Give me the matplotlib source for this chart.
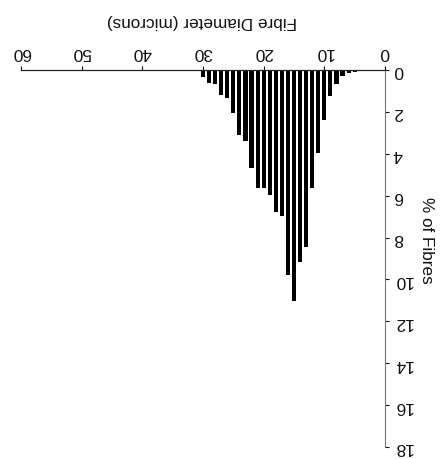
import matplotlib
matplotlib.use("Agg")
import matplotlib.pyplot as plt

plt.rcParams['font.family'] = ['Liberation Sans', 'DejaVu Sans']

diameters = [5, 6, 7, 8, 9, 10, 11, 12, 13, 14, 15, 16, 17, 18, 19, 20,
             21, 22, 23, 24, 25, 26, 27, 28, 29, 30]
percent = [0.08, 0.13, 0.3, 0.67, 1.26, 2.38, 3.97, 5.65, 8.45, 9.15, 11.05,
           9.8, 6.95, 6.8, 5.95, 5.65, 5.65, 4.7, 3.4, 3.1, 2.05, 1.35, 1.2,
           0.65, 0.6, 0.35]
x_ticks = [0, 10, 20, 30, 40, 50, 60]
y_ticks = [0, 2, 4, 6, 8, 10, 12, 14, 16, 18]
x_label = "Fibre Diameter (microns)"
y_label = "% of Fibres"

fig = plt.figure(figsize=(4.41, 4.60), dpi=100)
ax = fig.add_axes([21/441, 1-448/460, (385-21)/441, (448-71)/460])

ax.bar(diameters, percent, width=0.68, color='black', edgecolor='none')

ax.set_xlim(60, 0)
ax.set_ylim(18, 0)
ax.set_xticks(x_ticks)
ax.set_yticks(y_ticks)
ax.xaxis.tick_top()
ax.yaxis.tick_right()

for s in ['left', 'bottom']:
    ax.spines[s].set_visible(False)
ax.spines['top'].set_color('#222222')
ax.spines['top'].set_linewidth(0.9)
ax.spines['right'].set_color('#777777')
ax.spines['right'].set_linewidth(0.8)

ax.tick_params(axis='x', direction='out', length=3, width=0.8, pad=5,
               labelsize=12.5, labelrotation=180, colors='#111111')
ax.tick_params(axis='y', direction='out', length=3, width=0.8, pad=3,
               labelsize=12.5, labelrotation=180, colors='#111111')
for lbl in ax.get_yticklabels():
    lbl.set_va('center')

fig.text(202/441, 1-22/460, x_label, rotation=180, ha='center', va='center',
         fontsize=12.3, color='#111111')
fig.text(427/441, 1-240/460, y_label, rotation=-90, ha='center', va='center',
         fontsize=12.3, color='#111111')

fig.savefig("out.png", dpi=100)
